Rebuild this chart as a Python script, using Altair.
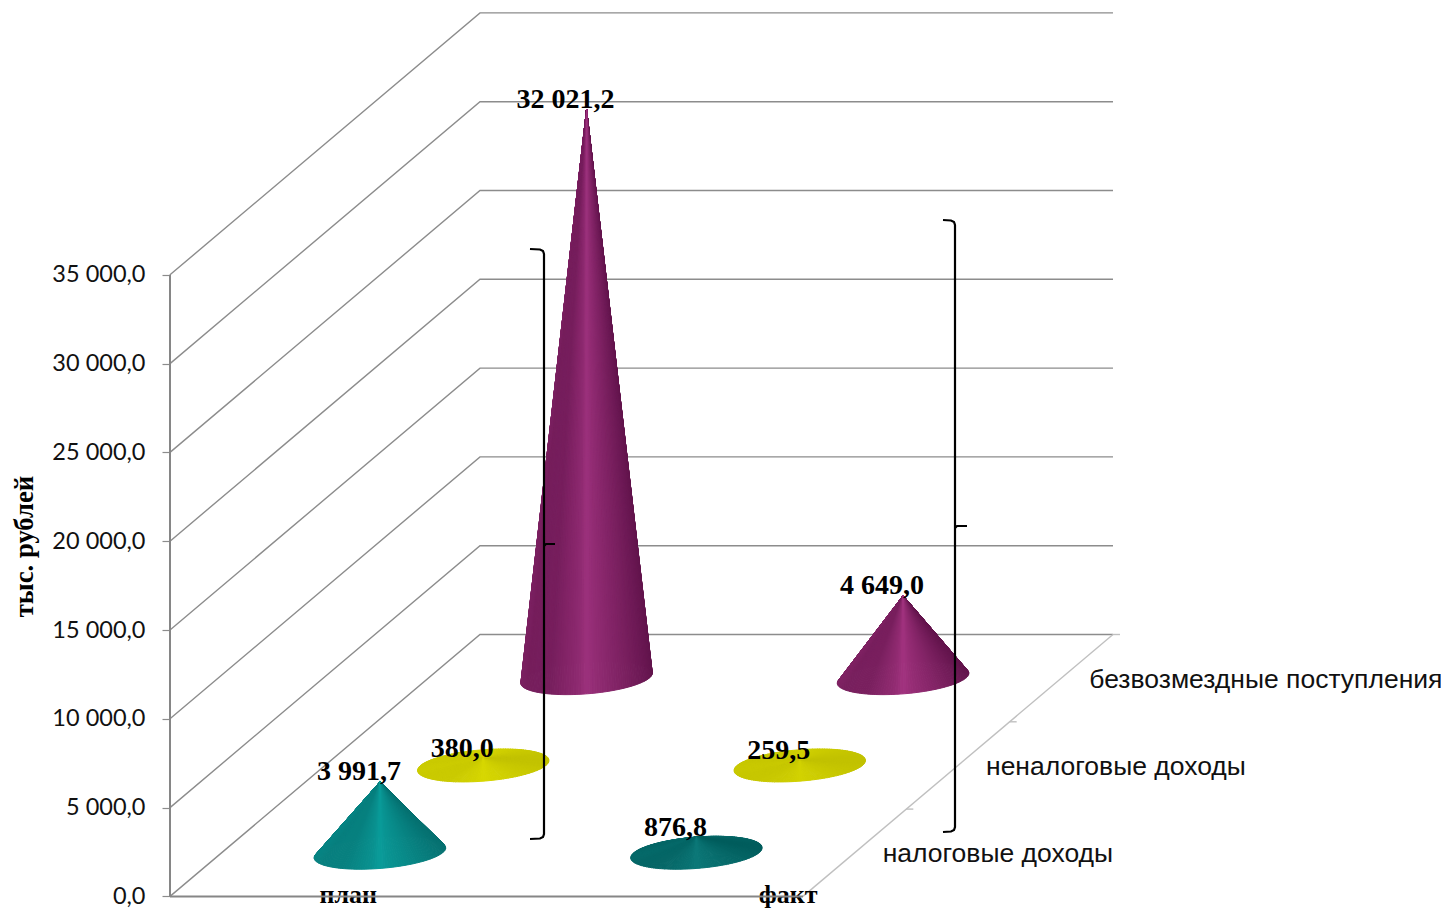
import altair as alt
import numpy as np
import pandas as pd

categories = ["план", "факт"]
series_names = ["налоговые доходы", "неналоговые доходы", "безвозмездные поступления"]
tax_values = [3991.7, 876.8]
nontax_values = [380.0, 259.5]
gratuitous_values = [32021.2, 4649.0]
axis_ticks = [0, 5000, 10000, 15000, 20000, 25000, 30000, 35000]
series_values = [tax_values, nontax_values, gratuitous_values]

# chart frame
W, H = 1433, 900
Y0 = 896.4           # picture row of value 0
K = 0.01776          # px per unit of value
AX0 = 170.0          # picture column of the value axis
CAT_W = 316.5        # px per category
DEPTH_X = 103.33     # px per series along the depth axis
DEPTH_V = 87.3 / K   # value-units of rise per series along the depth axis


def px_x(col):
    return col - 8.0


def px_y(row):
    return (Y0 - row) / K


def project(cat, depth, value):
    return px_x(AX0 + CAT_W * cat + DEPTH_X * depth), value + DEPTH_V * depth


def lines_frame(polys):
    rows = []
    for n, poly in enumerate(polys):
        for i, (x, y) in enumerate(poly):
            rows.append({"line": n, "i": i, "x": x, "y": y})
    return pd.DataFrame(rows)


x_scale = alt.Scale(domain=[0, W], range=[0, W], nice=False, zero=False)
y_scale = alt.Scale(domain=[px_y(8 + H), px_y(8)], nice=False, zero=False)


def line_layer(polys, color, width):
    return alt.Chart(lines_frame(polys)).mark_line(
        color=color, strokeWidth=width, interpolate="linear", clip=False
    ).encode(
        x=alt.X("x:Q", scale=x_scale, axis=None),
        y=alt.Y("y:Q", scale=y_scale, axis=None),
        detail="line:N",
        order="i:Q",
    )


# walls and floor
grid_polys = [
    [project(0, 0, v), project(0, 3, v), project(2, 3, v)] for v in axis_ticks
]
edge_polys = [[project(0, 0, 0), project(0, 0, axis_ticks[-1])],
              [project(0, 0, 0), project(2, 0, 0)]]
depth_polys = [[project(2, 0, 0), project(2, 3, 0)]]
for d in (1, 2, 3):
    px, py = project(2, d, 0)
    depth_polys.append([(px, py), (px + 7, py)])

# braces
brace_cols_rows = [
    (544.0, 530.0, 555.0, 249.0, 544.0, 839.0),
    (955.0, 943.0, 967.0, 220.0, 526.0, 832.0),
]
brace_polys = []
for c, hook, tick, top, mid, bot in brace_cols_rows:
    brace_polys.append([(px_x(a), px_y(b)) for a, b in [
        (hook, top), (c - 4, top + 0.5), (c - 1, top + 2), (c, top + 5),
        (c, bot - 5), (c - 1, bot - 2), (c - 4, bot - 0.5), (hook, bot)]])
    brace_polys.append([(px_x(a), px_y(b)) for a, b in [(c, mid + 2), (c + 2, mid), (tick, mid)]])

# cones
palettes = {
    (2, 0): ("#5c1147", "#9c317c"), (2, 1): ("#5c1147", "#a2337f"),
    (1, 0): ("#c0c000", "#d8d800"), (1, 1): ("#c0c000", "#d2d200"),
    (0, 0): ("#056c6c", "#0a9c9a"), (0, 1): ("#005a5a", "#0b7878"),
}
shade_u = [-1.0, -0.9, -0.55, -0.12, 0.0, 0.12, 0.5, 0.85, 1.0]
shade_f = [0.50, 0.40, 0.42, 0.78, 1.0, 0.85, 0.55, 0.25, 0.10]


def hex_rgb(h):
    return np.array([int(h[i:i + 2], 16) for i in (1, 3, 5)], dtype=float)


def mix(dark, light, f):
    c = hex_rgb(dark) * (1 - f) + hex_rgb(light) * f
    return "#%02x%02x%02x" % tuple(int(round(v)) for v in c)


A, B, TILT = 65.7, 15.7, 5.0
N_SEG = 160
rows = []
tri = 0
for d, values in enumerate(series_values):
    for c, v in enumerate(values):
        cx, cy = project(c + 0.5, d + 0.5, 0)
        ax, ay = project(c + 0.5, d + 0.5, v)
        ts = np.linspace(0, 2 * np.pi, N_SEG + 1)
        ex = cx + A * np.cos(ts)
        ey = cy + (TILT * np.cos(ts) - B * np.sin(ts)) / K
        dark, light = palettes[(d, c)]
        order = np.argsort(np.sin(ts[:-1] + np.pi / N_SEG))  # back half first, front half last
        for j in order:
            um = np.cos(ts[j] + np.pi / N_SEG)
            f = float(np.interp(um, shade_u, shade_f))
            colr = mix(dark, light, f)
            pts = sorted([(ax, ay), (ex[j], ey[j]), (ex[j + 1], ey[j + 1])])
            (x1, y1), (x2, y2), (x3, y3) = pts
            if x3 - x1 < 1e-9:
                continue
            ym = y1 + (y3 - y1) * (x2 - x1) / (x3 - x1)
            for k, (xx, aa, bb) in enumerate([(x1, y1, y1), (x2, y2, ym), (x3, y3, y3)]):
                rows.append({"tri": tri, "x": xx, "y": aa, "y2": bb, "shade": colr})
            tri += 1
cones = alt.Chart(pd.DataFrame(rows)).mark_area(
    interpolate="linear", orient="vertical", strokeWidth=1.0
).encode(
    x=alt.X("x:Q", scale=x_scale, axis=None),
    y=alt.Y("y:Q", scale=y_scale, axis=None),
    y2="y2:Q",
    detail="tri:N",
    order="tri:Q",
    color=alt.Color("shade:N", scale=None),
    stroke=alt.Stroke("shade:N", scale=None),
)

# real value axis, shifted into the plot
axis_layer = alt.Chart(pd.DataFrame({"v": axis_ticks})).mark_point(opacity=0).encode(
    y=alt.Y("v:Q", scale=y_scale, axis=alt.Axis(
        values=axis_ticks, orient="left", offset=-px_x(AX0), grid=False, domain=False,
        tickColor="#8c8c8c", tickSize=8, tickWidth=1.2,
        labelFont="Lato", labelFontSize=23.5, labelColor="#111111", labelPadding=17,
        labelExpr="replace(replace(format(datum.value, ',.1f'), ',', ' '), '.', ',')",
        title="тыс. рублей", titleFont="Liberation Serif", titleFontSize=26.7,
        titleFontWeight="bold", titleColor="black", titleX=-146, titleY=538,
        titleAngle=270, titleBaseline="middle", titleAlign="center",
    )),
)

# labels
value_rows = []
for d, values in enumerate(series_values):
    for c, v in enumerate(values):
        x, y = project(c + 0.5, d + 0.5, v)
        label = f"{v:,.1f}".replace(",", " ").replace(".", ",")
        value_rows.append({"x": x, "y": y, "label": label})
value_text = alt.Chart(pd.DataFrame(value_rows)).mark_text(
    font="Liberation Serif", fontSize=28, fontWeight="bold", color="black",
    dx=-21, dy=-9.5, align="center", baseline="middle",
).encode(
    x=alt.X("x:Q", scale=x_scale, axis=None),
    y=alt.Y("y:Q", scale=y_scale, axis=None),
    text="label:N",
)

series_rows = []
for d, name in enumerate(series_names):
    x, y = project(2, d + 0.5, 0)
    series_rows.append({"x": x, "y": y, "label": name})
series_text = alt.Chart(pd.DataFrame(series_rows)).mark_text(
    font="Liberation Sans", fontSize=26.5, color="#111111",
    dx=28, dy=1.5, align="left", baseline="middle",
).encode(
    x=alt.X("x:Q", scale=x_scale, axis=None),
    y=alt.Y("y:Q", scale=y_scale, axis=None),
    text="label:N",
)

category_slots = [0.563, 1.953]
cat_rows = []
for slot, name in zip(category_slots, categories):
    x, y = project(slot, 0, 0)
    cat_rows.append({"x": x, "y": y, "label": name})
cat_text = alt.Chart(pd.DataFrame(cat_rows)).mark_text(
    font="Liberation Serif", fontSize=26, fontWeight="bold", color="black",
    dy=6.4, align="center", baseline="alphabetic",
).encode(
    x=alt.X("x:Q", scale=x_scale, axis=None),
    y=alt.Y("y:Q", scale=y_scale, axis=None),
    text="label:N",
)

chart = alt.layer(
    axis_layer,
    line_layer(grid_polys, "#8c8c8c", 1.4),
    line_layer(depth_polys, "#c0c0c0", 1.4),
    cat_text,
    line_layer(edge_polys, "#868686", 2.0),
    cones,
    line_layer(brace_polys, "black", 2.2),
    value_text,
    series_text,
).resolve_scale(y="shared", x="shared").resolve_axis(y="independent", x="independent").properties(
    width=W, height=H, padding=0,
    autosize=alt.AutoSizeParams(type="none"),
    background="white",
).configure_view(stroke=None)

chart.save("out.html", embed_options={"renderer": "svg", "actions": False})
